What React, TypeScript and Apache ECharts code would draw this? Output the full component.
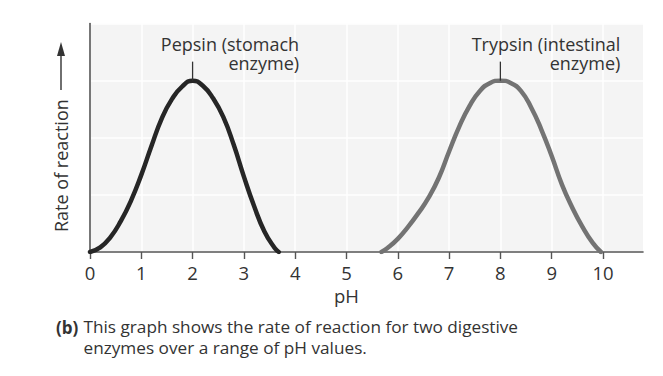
import React, { useEffect, useRef } from "react";
import * as echarts from "echarts";

// ---- data ----
const pepsinPH = [0, 0.2, 0.4, 0.6, 0.8, 1.0, 1.2, 1.4, 1.6, 1.8, 2.0, 2.2, 2.4, 2.6, 2.8, 3.0, 3.2, 3.4, 3.6, 3.68];
const pepsinRate = [0, 0.08, 0.26, 0.54, 0.9, 1.35, 1.86, 2.34, 2.68, 2.9, 3.0, 2.91, 2.69, 2.36, 1.88, 1.32, 0.8, 0.36, 0.07, 0];
const trypsinPH = [5.68, 5.8, 6.0, 6.2, 6.4, 6.6, 6.8, 7.0, 7.2, 7.4, 7.6, 7.8, 8.0, 8.2, 8.4, 8.6, 8.8, 9.0, 9.2, 9.4, 9.6, 9.8, 9.96];
const trypsinRate = [0, 0.07, 0.23, 0.44, 0.68, 0.95, 1.3, 1.76, 2.2, 2.56, 2.82, 2.96, 3.0, 2.96, 2.82, 2.53, 2.14, 1.68, 1.18, 0.78, 0.44, 0.16, 0];
const xTickValues = [0, 1, 2, 3, 4, 5, 6, 7, 8, 9, 10];
const pepsinPeak = [2, 3];
const trypsinPeak = [8, 3];
const pepsinLabel = ["Pepsin (stomach", "enzyme)"];
const trypsinLabel = ["Trypsin (intestinal", "enzyme)"];
const xTitle = "pH";
const yTitle = "Rate of reaction";
const captionTag = "(b)";
const captionLines = [
  "This graph shows the rate of reaction for two digestive",
  "enzymes over a range of pH values.",
];

// ---- styles ----
const FONT = "'Open Sans', 'Noto Sans', sans-serif";
const TEXT = "#333333";
const AXIS = "#555555";

export default function App() {
  const ref = useRef<HTMLDivElement>(null);

  useEffect(() => {
    if (!ref.current) return;
    const chart = echarts.init(ref.current, undefined, { renderer: "svg" });
    const zip = (xs: number[], ys: number[]) => xs.map((x, i) => [x, ys[i]]);

    chart.setOption({
      animation: false,
      backgroundColor: "#ffffff",
      grid: {
        left: 90,
        top: 23.5,
        width: 553,
        height: 228.5,
        show: true,
        backgroundColor: "#f4f4f4",
        borderWidth: 0,
      },
      xAxis: {
        type: "value",
        min: 0,
        max: 10.78,
        interval: 1,
        axisLine: { show: true, onZero: false, lineStyle: { color: AXIS, width: 1.6 } },
        axisTick: { show: true, customValues: xTickValues, length: 7, lineStyle: { color: AXIS, width: 1.4 } },
        axisLabel: {
          customValues: xTickValues,
          margin: 11,
          fontFamily: FONT,
          fontSize: 18.5,
          color: TEXT,
        },
        splitLine: { show: true, lineStyle: { color: "#ffffff", width: 1.5 } },
      },
      yAxis: {
        type: "value",
        min: 0,
        max: 4,
        interval: 1,
        axisLine: { show: true, lineStyle: { color: AXIS, width: 1.6 } },
        axisTick: { show: false },
        axisLabel: { show: false },
        splitLine: { show: true, lineStyle: { color: "#ffffff", width: 1.5 } },
      },
      series: [
        {
          type: "line",
          data: zip(pepsinPH, pepsinRate),
          smooth: 0.5,
          showSymbol: false,
          lineStyle: { color: "#262626", width: 4.5, cap: "round", join: "round" },
          z: 3,
        },
        {
          type: "line",
          data: zip(trypsinPH, trypsinRate),
          smooth: 0.5,
          showSymbol: false,
          lineStyle: { color: "#737373", width: 4.5, cap: "round", join: "round" },
          z: 3,
        },
      ],
    });

    const px = (p: number[]) => chart.convertToPixel({ gridIndex: 0 }, p) as number[];
    const annot = (peak: number[], lines: string[], rightOffset: number) => {
      const [x, y] = px(peak);
      return [
        {
          type: "line",
          shape: { x1: x, y1: y, x2: x, y2: y - 19 },
          style: { stroke: "#333", lineWidth: 1.3 },
          z: 10,
        },
        {
          type: "text",
          x: x + rightOffset,
          y: y - 27,
          style: {
            text: lines.join("\n"),
            fontFamily: FONT,
            fontSize: 18,
            lineHeight: 18.5,
            fill: TEXT,
            align: "right",
            verticalAlign: "middle",
          },
          z: 10,
        },
      ];
    };
    const origin = px([0, 0]);
    const pHpos = px([5, 0]);

    chart.setOption({
      graphic: [
        ...annot(pepsinPeak, pepsinLabel, 106.5),
        ...annot(trypsinPeak, trypsinLabel, 120),
        {
          type: "text",
          x: pHpos[0],
          y: origin[1] + 43.5,
          style: { text: xTitle, fontFamily: FONT, fontSize: 18.5, fill: TEXT, align: "center", verticalAlign: "middle" },
        },
        {
          type: "text",
          x: 61,
          y: 232,
          rotation: Math.PI / 2,
          style: { text: yTitle, fontFamily: FONT, fontSize: 18, fill: TEXT, align: "left", verticalAlign: "middle" },
        },
        {
          type: "line",
          shape: { x1: 61, y1: 90, x2: 61, y2: 54 },
          style: { stroke: "#333", lineWidth: 1.4 },
        },
        {
          type: "polygon",
          shape: { points: [[57, 56], [65, 56], [61, 42]] },
          style: { fill: "#333" },
        },
        {
          type: "text",
          x: 56,
          y: 327,
          style: { text: captionTag, fontFamily: FONT, fontSize: 17, fontWeight: "bold", fill: TEXT, align: "left", verticalAlign: "middle" },
        },
        {
          type: "text",
          x: 83.5,
          y: 337,
          style: {
            text: captionLines.join("\n"),
            fontFamily: FONT,
            fontSize: 17.2,
            lineHeight: 20.5,
            fill: TEXT,
            align: "left",
            verticalAlign: "middle",
          },
        },
      ],
    });

    return () => chart.dispose();
  }, []);

  return (
    <div
      ref={ref}
      style={{ position: "fixed", left: 0, top: 0, width: 663, height: 376, background: "#fff" }}
    />
  );
}
